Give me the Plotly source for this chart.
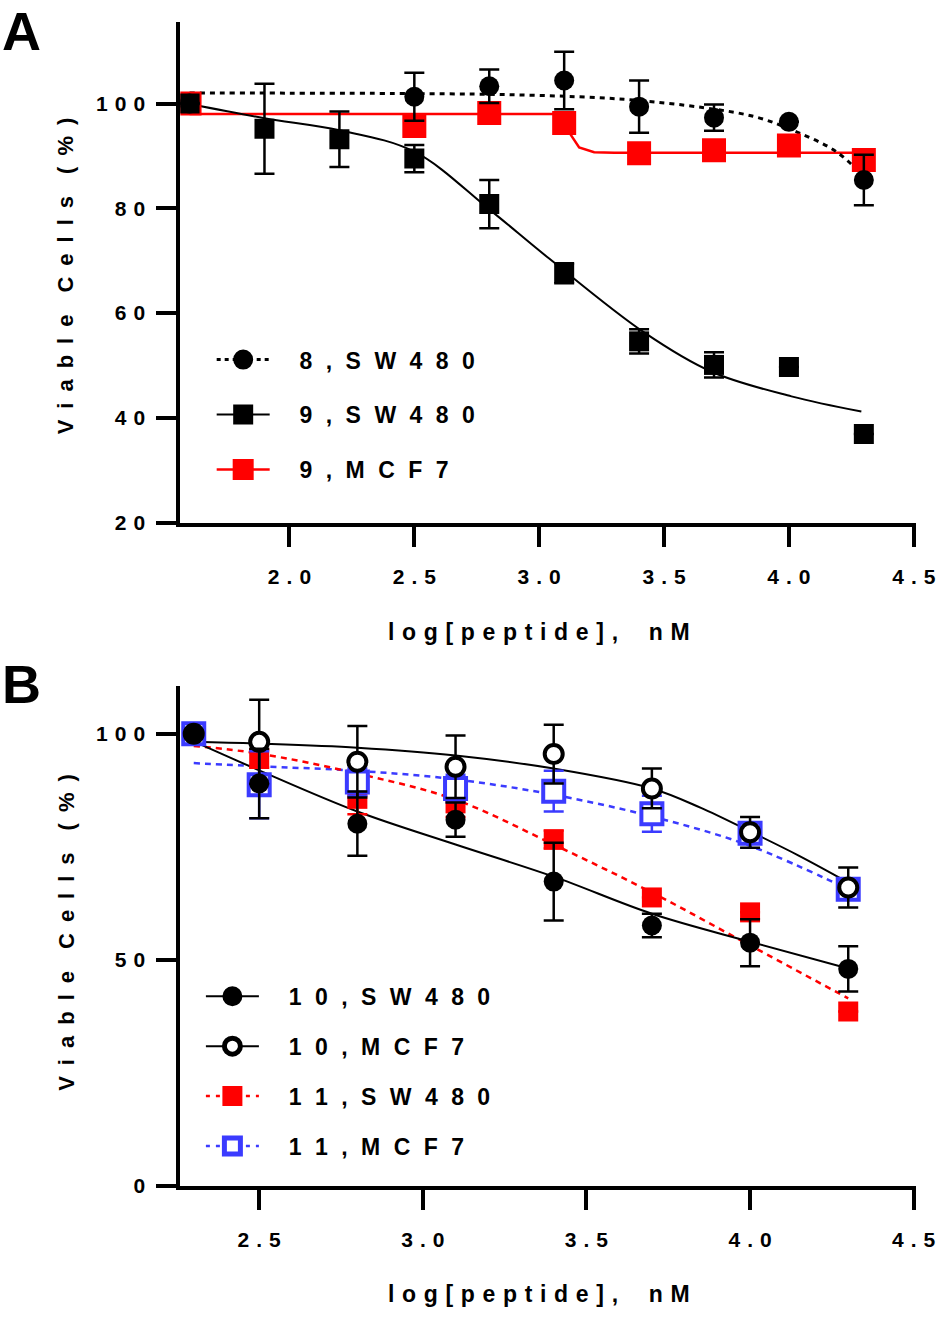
import plotly.graph_objects as go

# ---------------- panel A data ----------------
x_a = [1.6, 1.9, 2.2, 2.5, 2.8, 3.1, 3.4, 3.7, 4.0, 4.3]
x_a8 = [1.6, 2.5, 2.8, 3.1, 3.4, 3.7, 4.0, 4.3]

p8_sw = [100, 101.3, 103.3, 104.4, 99.4, 97.3, 96.5, 85.4]
p8_sw_err = [0, 4.6, 3.2, 5.5, 5.0, 2.5, 0, 4.8]

p9_sw = [100, 95.2, 93.2, 89.5, 80.8, 67.6, 54.6, 50.1, 49.7, 36.9]
p9_sw_err = [0, 8.6, 5.3, 2.6, 4.6, 1.9, 2.3, 2.4, 0, 0]

p9_mcf = [100, 95.7, 98.2, 96.3, 90.5, 91.1, 92.0, 89.2]

# fitted curves
fit8_x = [1.6, 2.5, 2.96, 3.34, 3.66, 3.87, 4.03, 4.19, 4.3]
fit8_y = [102.0, 101.9, 101.6, 100.8, 99.2, 97.4, 94.6, 90.8, 86.0]
fit9s_x = [1.6, 1.9, 2.2, 2.5, 2.8, 3.04, 3.42, 3.69, 4.01, 4.29]
fit9s_y = [99.9, 97.2, 94.9, 90.8, 79.8, 70.4, 56.3, 48.8, 44.1, 41.2]
fit9m_x = [1.6, 3.08, 3.12, 3.16, 3.22, 3.3, 4.3]
fit9m_y = [98.0, 98.0, 94.5, 91.6, 90.7, 90.6, 90.6]

# ---------------- panel B data ----------------
x_b = [2.3, 2.5, 2.8, 3.1, 3.4, 3.7, 4.0, 4.3]
p10_sw = [100, 89.0, 80.1, 81.0, 67.3, 57.6, 53.8, 48.0]
p10_sw_err = [0, 7.7, 7.1, 3.8, 8.6, 2.6, 5.2, 5.0]
p10_mcf = [100, 98.2, 93.8, 92.7, 95.5, 87.9, 78.2, 66.0]
p10_mcf_err = [0, 9.3, 7.9, 6.9, 6.5, 4.4, 3.4, 4.4]
p11_sw = [100, 94.5, 85.6, 84.6, 76.6, 63.8, 60.5, 38.6]
p11_sw_err = [0, 2.0, 3.4, 3.0, 2.0, 0, 0, 0]
p11_mcf = [100, 88.7, 89.3, 87.9, 87.3, 82.3, 78.0, 65.6]
p11_mcf_err = [0, 7.4, 3.0, 3.0, 4.5, 4.0, 2.0, 2.0]

fit10s_y = [98.3, 91.9, 82.8, 75.5, 68.4, 60.2, 54.0, 48.1]
fit10m_x = [2.3, 2.5, 2.8, 3.1, 3.4, 3.7, 3.85, 4.0, 4.15, 4.3]
fit10m_y = [98.2, 97.8, 96.9, 95.2, 92.3, 87.9, 83.6, 78.4, 73.0, 67.1]
fit11s_y = [97.3, 95.6, 91.2, 85.4, 75.5, 64.9, 53.2, 41.5]
fit11m_y = [93.5, 92.8, 91.8, 89.9, 86.5, 81.7, 75.2, 65.6]

ticks_xa = [2.0, 2.5, 3.0, 3.5, 4.0, 4.5]
ticks_ya = [20, 40, 60, 80, 100]
ticks_xb = [2.5, 3.0, 3.5, 4.0, 4.5]
ticks_yb = [0, 50, 100]

FONT = "Liberation Sans, Arial, sans-serif"
RED = "#ff0000"
BLUE = "#3b3bff"
W, H = 950, 1318


def spaced(text, sep="\u2002", wsep=None):
    wsep = wsep if wsep is not None else sep * 2
    return wsep.join(sep.join(w) for w in text.split(" "))


def tick_txt(vals, fmt):
    return [spaced(fmt.format(v), "\u2004") for v in vals]


def err(arr, color="black"):
    return dict(type="data", array=arr, visible=True, color=color, thickness=2.5, width=10)


fig = go.Figure()

# ---- panel A: fit lines ----
fig.add_trace(go.Scatter(x=fit9m_x, y=fit9m_y, mode="lines", line=dict(color=RED, width=2.5),
                         xaxis="x", yaxis="y", showlegend=False))
fig.add_trace(go.Scatter(x=fit9s_x, y=fit9s_y, mode="lines", line=dict(color="black", width=2, shape="spline"),
                         xaxis="x", yaxis="y", showlegend=False))
fig.add_trace(go.Scatter(x=fit8_x, y=fit8_y, mode="lines",
                         line=dict(color="black", width=3, dash="5px,5px", shape="spline"),
                         xaxis="x", yaxis="y", showlegend=False))
# ---- panel A: points ----
fig.add_trace(go.Scatter(x=x_a8, y=p9_mcf, mode="markers",
                         marker=dict(symbol="square", size=24, color=RED),
                         xaxis="x", yaxis="y", showlegend=False))
fig.add_trace(go.Scatter(x=x_a, y=p9_sw, mode="markers", error_y=err(p9_sw_err),
                         marker=dict(symbol="square", size=20, color="black"),
                         xaxis="x", yaxis="y", showlegend=False))
fig.add_trace(go.Scatter(x=x_a8, y=p8_sw, mode="markers", error_y=err(p8_sw_err),
                         marker=dict(symbol="circle", size=20, color="black"),
                         xaxis="x", yaxis="y", showlegend=False))

# ---- panel B: fit lines ----
fig.add_trace(go.Scatter(x=x_b, y=fit11m_y, mode="lines",
                         line=dict(color=BLUE, width=2.5, dash="6px,5px", shape="spline"),
                         xaxis="x2", yaxis="y2", showlegend=False))
fig.add_trace(go.Scatter(x=x_b, y=fit11s_y, mode="lines",
                         line=dict(color=RED, width=2.5, dash="6px,5px", shape="spline"),
                         xaxis="x2", yaxis="y2", showlegend=False))
fig.add_trace(go.Scatter(x=fit10m_x, y=fit10m_y, mode="lines",
                         line=dict(color="black", width=2, shape="spline"),
                         xaxis="x2", yaxis="y2", showlegend=False))
fig.add_trace(go.Scatter(x=x_b, y=fit10s_y, mode="lines",
                         line=dict(color="black", width=2, shape="spline"),
                         xaxis="x2", yaxis="y2", showlegend=False))
# ---- panel B: points ----
fig.add_trace(go.Scatter(x=x_b, y=p11_sw, mode="markers", error_y=err(p11_sw_err, RED),
                         marker=dict(symbol="square", size=20, color=RED),
                         xaxis="x2", yaxis="y2", showlegend=False))
fig.add_trace(go.Scatter(x=x_b, y=p11_mcf, mode="markers", error_y=err(p11_mcf_err, BLUE),
                         marker=dict(symbol="square", size=21, color="white", line=dict(color=BLUE, width=4)),
                         xaxis="x2", yaxis="y2", showlegend=False))
fig.add_trace(go.Scatter(x=x_b, y=p10_mcf, mode="markers", error_y=err(p10_mcf_err),
                         marker=dict(symbol="circle", size=18, color="white", line=dict(color="black", width=4)),
                         xaxis="x2", yaxis="y2", showlegend=False))
fig.add_trace(go.Scatter(x=x_b, y=p10_sw, mode="markers", error_y=err(p10_sw_err),
                         marker=dict(symbol="circle", size=20, color="black"),
                         xaxis="x2", yaxis="y2", showlegend=False))

# ---- legend entries ----
lead = "\u2002\u2004\u2005"
lsep = "\u2002\u200a"
leg_a = [
    ("8, SW480", dict(color="black", width=3, dash="4px,4px"), dict(symbol="circle", size=16, color="black", line=dict(color="black", width=4))),
    ("9, SW480", dict(color="black", width=2), dict(symbol="square", size=16, color="black", line=dict(color="black", width=4))),
    ("9, MCF7", dict(color=RED, width=2.5), dict(symbol="square", size=16, color=RED, line=dict(color=RED, width=5))),
]
for i, (name, ln, mk) in enumerate(leg_a):
    fig.add_trace(go.Scatter(x=[None], y=[None], mode="lines+markers", name=lead + spaced(name, lsep, lsep),
                             line=ln, marker=mk, legend="legend", legendgroup="a%d" % i,
                             xaxis="x", yaxis="y"))
leg_b = [
    ("10, SW480", dict(color="black", width=2), dict(symbol="circle", size=16, color="black", line=dict(color="black", width=4))),
    ("10, MCF7", dict(color="black", width=2), dict(symbol="circle", size=16, color="white", line=dict(color="black", width=5))),
    ("11, SW480", dict(color=RED, width=2.5, dash="4px,6px"), dict(symbol="square", size=16, color=RED, line=dict(color=RED, width=4))),
    ("11, MCF7", dict(color=BLUE, width=2.5, dash="4px,6px"), dict(symbol="square", size=16, color="white", line=dict(color=BLUE, width=5))),
]
for i, (name, ln, mk) in enumerate(leg_b):
    fig.add_trace(go.Scatter(x=[None], y=[None], mode="lines+markers", name=lead + spaced(name, lsep, lsep),
                             line=ln, marker=mk, legend="legend2", legendgroup="b%d" % i,
                             xaxis="x2", yaxis="y2"))

axis_common = dict(showline=True, linewidth=4, linecolor="black", ticks="outside", ticklen=20,
                   tickwidth=4, tickcolor="black", showgrid=False, zeroline=False,
                   ticklabeloverflow="allow",
                   tickfont=dict(family=FONT, size=21, color="black", weight="bold"))

leg_font = dict(family=FONT, size=23, color="black", weight="bold")
fig.update_layout(
    width=W, height=H, margin=dict(l=0, r=0, t=0, b=0),
    paper_bgcolor="white", plot_bgcolor="white",
    xaxis=dict(domain=[184 / W, 935 / W], range=[1.563, 4.51], anchor="y",
               tickvals=ticks_xa, ticktext=tick_txt(ticks_xa, "{:.1f}"), ticklabelstandoff=12, **axis_common),
    yaxis=dict(domain=[1 - 527 / H, 1 - 22 / H], range=[20, 115.6], anchor="x",
               tickvals=ticks_ya, ticktext=tick_txt(ticks_ya, "{:d}"), ticklabelstandoff=7, **axis_common),
    xaxis2=dict(domain=[184 / W, 935 / W], range=[2.259, 4.508], anchor="y2",
                tickvals=ticks_xb, ticktext=tick_txt(ticks_xb, "{:.1f}"), ticklabelstandoff=12, **axis_common),
    yaxis2=dict(domain=[1 - 1196 / H, 1 - 692 / H], range=[0, 110.5], anchor="x2",
                tickvals=ticks_yb, ticktext=tick_txt(ticks_yb, "{:d}"), ticklabelstandoff=7, **axis_common),
    legend=dict(x=216 / W, y=1 - 341 / H, xanchor="left", yanchor="top", bgcolor="rgba(0,0,0,0)",
                itemwidth=53, tracegroupgap=22, font=leg_font),
    legend2=dict(x=205 / W, y=1 - 983 / H, xanchor="left", yanchor="top", bgcolor="rgba(0,0,0,0)",
                 itemwidth=53, tracegroupgap=17, font=leg_font),
)

xtitle = spaced("log[peptide], nM", "\u2004", "\u2003\u2004")
ytitle = spaced("Viable Cells (%)", "\u2002", "\u2002\u2002")
for letter, yc in [("A", 31), ("B", 690)]:
    fig.add_annotation(text=letter, xref="paper", yref="paper", x=22 / W, y=1 - yc / H,
                       xanchor="center", yanchor="middle", showarrow=False,
                       font=dict(family=FONT, size=54, color="black", weight="bold"))
for yc in [637, 1305]:
    fig.add_annotation(text=xtitle, xref="paper", yref="paper", x=550 / W, y=1 - yc / H,
                       xanchor="center", yanchor="middle", showarrow=False,
                       font=dict(family=FONT, size=23, color="black", weight="bold"))
for yc in [278, 940]:
    fig.add_annotation(text=ytitle, xref="paper", yref="paper", x=67 / W, y=1 - yc / H, textangle=-90,
                       xanchor="center", yanchor="middle", showarrow=False,
                       font=dict(family=FONT, size=22, color="black", weight="bold"))

# drop the page's default body margin and scrollbars so the figure fills the window exactly
page_fix = ("document.body.style.margin='0';"
            "document.body.style.overflow='hidden';"
            "document.documentElement.style.overflow='hidden';")
fig.write_html("out.html", post_script=page_fix, config={"displayModeBar": False})
